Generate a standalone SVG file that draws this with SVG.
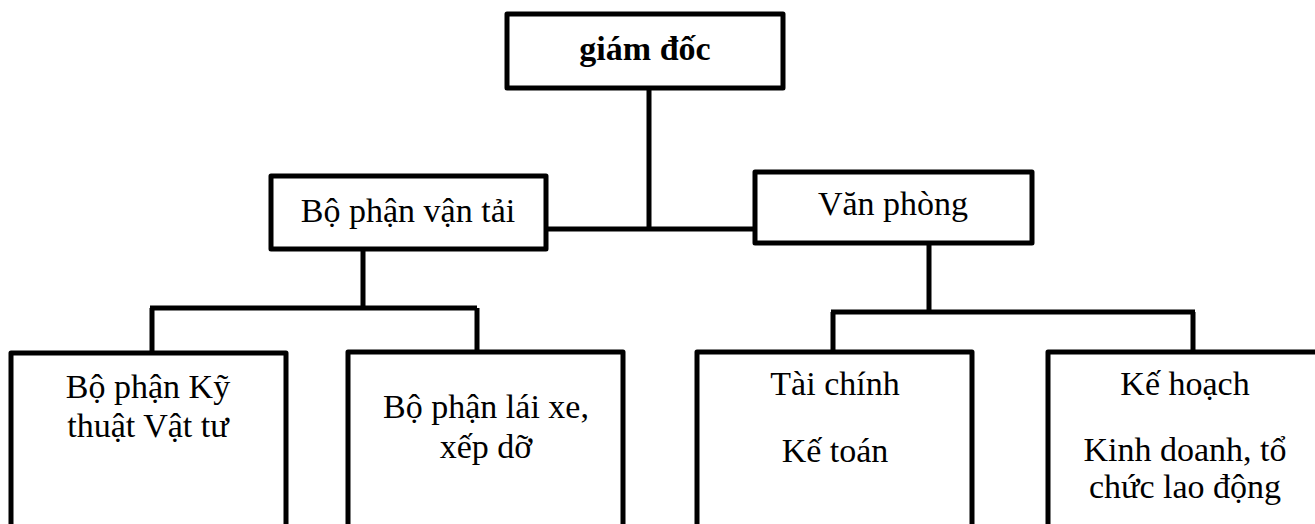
<svg xmlns="http://www.w3.org/2000/svg" width="1315" height="524" viewBox="0 0 1315 524">
<style>
.box{fill:#fff;stroke:#000;stroke-width:5;stroke-linejoin:round}
.t{font-family:"Liberation Serif","Times New Roman",serif;font-size:34px;fill:#000;text-anchor:middle}
.b{font-weight:bold}
.c{fill:none;stroke:#000;stroke-width:5;stroke-linecap:butt}
</style>
<rect width="1315" height="524" fill="#fff"/>
<g id="connectors">
<path class="c" d="M649,88 V229 M546,229 H755"/>
<path class="c" d="M363,249 V308 M150,308 H477 M152,308 V353 M477,308 V352"/>
<path class="c" d="M929,243 V312 M831,312 H1195 M833,312 V352 M1193,312 V352"/>
</g>
<g id="giam-doc">
<rect class="box" x="507" y="14" width="276" height="74"/>
<text class="t b" x="645" y="60">giám đốc</text>
</g>
<g id="bo-phan-van-tai">
<rect class="box" x="271" y="176" width="275" height="73"/>
<text class="t" x="408" y="222">Bộ phận vận tải</text>
</g>
<g id="van-phong">
<rect class="box" x="755" y="172" width="277" height="71"/>
<text class="t" x="893" y="215">Văn phòng</text>
</g>
<g id="ky-thuat">
<rect class="box" x="11" y="353" width="275" height="180"/>
<text class="t" x="148" y="398">Bộ phận Kỹ</text>
<text class="t" x="148" y="437">thuật Vật tư</text>
</g>
<g id="lai-xe">
<rect class="box" x="348" y="352" width="275" height="180"/>
<text class="t" x="486" y="418">Bộ phận lái xe,</text>
<text class="t" x="486" y="458">xếp dỡ</text>
</g>
<g id="tai-chinh">
<rect class="box" x="697" y="352" width="275" height="180"/>
<text class="t" x="835" y="395">Tài chính</text>
<text class="t" x="835" y="462">Kế toán</text>
</g>
<g id="ke-hoach">
<rect class="box" x="1048" y="352" width="275" height="180"/>
<text class="t" x="1185" y="395">Kế hoạch</text>
<text class="t" x="1185" y="461">Kinh doanh, tổ</text>
<text class="t" x="1185" y="498">chức lao động</text>
</g>
</svg>
